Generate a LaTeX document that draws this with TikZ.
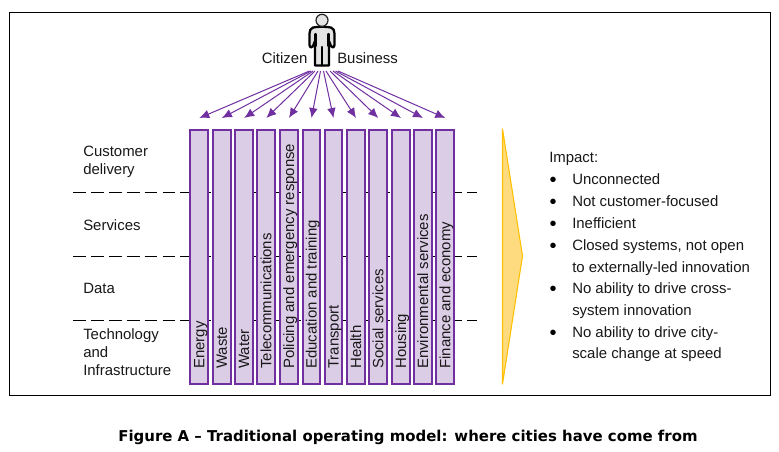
\documentclass[tikz,border=0pt]{standalone}
\usepackage{fontspec}
\setmainfont{Liberation Sans}
\newfontfamily\capfont{DejaVu Sans}
\definecolor{colfill}{HTML}{DCCDE6}
\definecolor{coledge}{HTML}{7030A0}
\definecolor{ambfill}{HTML}{FFDB80}
\definecolor{ambedge}{HTML}{FFC000}
\definecolor{txt}{HTML}{181818}
\usetikzlibrary{arrows.meta}
\tikzset{
  col/.style={draw=coledge,fill=colfill,line width=1.5pt,minimum width=13.3pt,minimum height=190.5pt,inner sep=0pt,outer sep=0pt,anchor=north},
  collabel/.style={rotate=90,anchor=base west,inner sep=0pt,font=\fontsize{11.2}{13}\selectfont,text=txt},
  txtnode/.style={anchor=base west,inner sep=0pt,font=\fontsize{11.2}{13}\selectfont,text=txt},
  bulletnode/.style={anchor=base,inner sep=0pt,font=\fontsize{15}{15}\selectfont,text=black},
  fan/.style={coledge,line width=0.75pt,-{Latex[length=7.5pt,width=6.5pt]}},
  layerline/.style={black,line width=0.7pt,dash pattern=on 9.6pt off 3.83pt},
  personline/.style={black,line width=1.6pt,line cap=round},
}
\begin{document}
\begin{tikzpicture}[x=0.75pt,y=-0.75pt]
\useasboundingbox (0,0) rectangle (779,451);
\fill[white] (0,0) rectangle (779,451);
\draw[black,line width=0.8pt] (9.5,12.5) rectangle (770.5,395.5);
% layer lines
\coordinate (l1a) at (73,192); \coordinate (l1b) at (477,192);
\coordinate (l2a) at (73,256); \coordinate (l2b) at (477,256);
\coordinate (l3a) at (73,320.5); \coordinate (l3b) at (477,320.5);
\draw[layerline] (l1a) -- (l1b);
\draw[layerline] (l2a) -- (l2b);
\draw[layerline] (l3a) -- (l3b);
% columns
\foreach \n/\cx/\t/\sx in {
 a/199.3/Energy/309.5, b/221.9/Waste/311, c/244.2/Water/313, d/266.3/Telecommunications/315,
 e/289/Policing and emergency response/318, f/311.5/Education and training/320.5,
 g/333.5/Transport/323.5, h/356/Health/326, i/378.3/Social services/330, j/401/Housing/333,
 k/423/Environmental services/335.5, l/445.3/Finance and economy/338}{
  \node[col] (col\n) at (\cx,129.5) {};
  \node[collabel] (lab\n) at (\cx+5,369) {\t};
  \coordinate (from\n) at (\sx,71);
  \coordinate (to\n) at (\cx,118);
  \draw[fan] (from\n) -- (to\n);
}
% person
\draw[black,line width=1.7pt,fill=gray!22,line join=round] (313,27.5)
  .. controls (317,26.5) and (327,26.5) .. (331,27.5)
  .. controls (333.5,28.5) and (334.5,30.5) .. (334.5,33.5) -- (334.5,45)
  .. controls (334.5,48) and (331,48) .. (331,46) -- (329,41)
  -- (329,65.5) -- (315,65.5) -- (315,41) -- (313,46)
  .. controls (313,48) and (309.5,48) .. (309.5,45) -- (309.5,33.5)
  .. controls (309.5,30.5) and (310.5,28.5) .. (313,27.5) -- cycle;
\draw[personline] (315.5,34) -- (315.5,46);
\draw[personline] (328.5,34) -- (328.5,46);
\draw[personline] (322,47) -- (322,65.5);
\draw[black!85,line width=0.9pt,fill=gray!22] (322,20.3) circle (6);
\node[txtnode] (citizen) at (261.5,63) {Citizen};
\node[txtnode] (business) at (337,63) {Business};
% left labels
\node[txtnode] (ll1) at (83,156) {Customer};
\node[txtnode] (ll2) at (83,174) {delivery};
\node[txtnode] (ll3) at (83,230) {Services};
\node[txtnode] (ll4) at (83,293) {Data};
\node[txtnode] (ll5) at (83,339) {Technology};
\node[txtnode] (ll6) at (83,357) {and};
\node[txtnode] (ll7) at (83,375) {Infrastructure};
% chevron
\draw[ambedge,fill=ambfill,line width=0.8pt,line join=round] (502.5,129) -- (522.5,256) -- (502.5,384) -- cycle;
% impact
\node[txtnode] (imp) at (549,162.5) {Impact:};
\foreach \y in {186,208,230,252,295,339}{
  \node[bulletnode] at (553,\y) {•};
}
\node[txtnode] (t1) at (572,184) {Unconnected};
\node[txtnode] (t2) at (572,206) {Not customer-focused};
\node[txtnode] (t3) at (572,228) {Inefficient};
\node[txtnode] (t4) at (572,250) {Closed systems, not open};
\node[txtnode] (t5) at (572,272) {to externally-led innovation};
\node[txtnode] (t6) at (572,293.5) {No ability to drive cross-};
\node[txtnode] (t7) at (572,315.5) {system innovation};
\node[txtnode] (t8) at (572,337) {No ability to drive city-};
\node[txtnode] (t9) at (572,358.5) {scale change at speed};
% caption
\node[anchor=base,inner sep=0pt,font=\capfont\bfseries\fontsize{11.2}{13}\selectfont,text=black] (caption) at (408,441) {Figure A – Traditional operating model: where cities have come from};
\end{tikzpicture}
\end{document}
